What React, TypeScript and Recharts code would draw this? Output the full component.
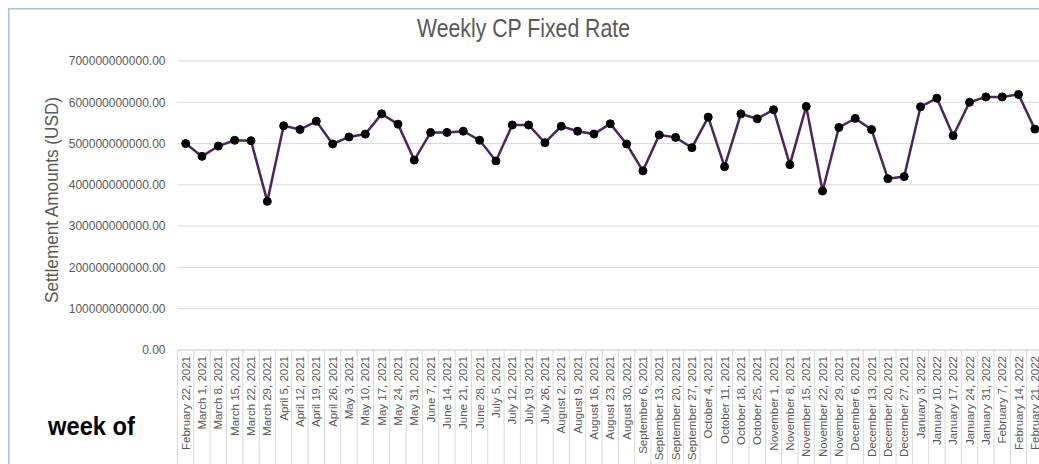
import React from 'react';
import { LineChart, Line, XAxis, YAxis, CartesianGrid } from 'recharts';

const weeks: string[] = [
  'February 22, 2021', 'March 1, 2021', 'March 8, 2021', 'March 15, 2021', 'March 22, 2021', 'March 29, 2021',
  'April 5, 2021', 'April 12, 2021', 'April 19, 2021', 'April 26, 2021',
  'May 3, 2021', 'May 10, 2021', 'May 17, 2021', 'May 24, 2021', 'May 31, 2021',
  'June 7, 2021', 'June 14, 2021', 'June 21, 2021', 'June 28, 2021',
  'July 5, 2021', 'July 12, 2021', 'July 19, 2021', 'July 26, 2021',
  'August 2, 2021', 'August 9, 2021', 'August 16, 2021', 'August 23, 2021', 'August 30, 2021',
  'September 6, 2021', 'September 13, 2021', 'September 20, 2021', 'September 27, 2021',
  'October 4, 2021', 'October 11, 2021', 'October 18, 2021', 'October 25, 2021',
  'November 1, 2021', 'November 8, 2021', 'November 15, 2021', 'November 22, 2021', 'November 29, 2021',
  'December 6, 2021', 'December 13, 2021', 'December 20, 2021', 'December 27, 2021',
  'January 3, 2022', 'January 10, 2022', 'January 17, 2022', 'January 24, 2022', 'January 31, 2022',
  'February 7, 2022', 'February 14, 2022', 'February 21, 2022',
];

// settlement amounts in billions of USD
const settlementBillions: number[] = [
  500, 469, 494, 508, 507, 360,
  543, 534, 554, 499,
  516, 523, 572, 547, 460,
  527, 527, 530, 508,
  458, 545, 545, 502,
  542, 530, 523, 548, 499,
  434, 521, 515, 490,
  564, 444, 572, 560,
  582, 449, 590, 385, 539,
  561, 534, 415, 420,
  589, 610, 519, 600, 613,
  613, 619, 535,
];

const yTicks: number[] = [0, 1e11, 2e11, 3e11, 4e11, 5e11, 6e11, 7e11];

const title = 'Weekly CP Fixed Rate';
const yTitle = 'Settlement Amounts (USD)';
const xNote = 'week of';

const data = weeks.map((w, i) => ({ week: w, amount: settlementBillions[i] * 1e9 }));

const CHART_W = 1050;
const CHART_H = 464;
const MARGIN = { top: 61, right: 7, bottom: 0, left: 0 };
const Y_AXIS_W = 177.5;
const PLOT_W = CHART_W - MARGIN.right - MARGIN.left - Y_AXIS_W;
const STEP = PLOT_W / weeks.length;
const GRID = '#d9d9d9';
const TEXT = '#595959';

const XTick = (props: any) => {
  const { x, y, payload, index } = props;
  const ty = y + 6;
  return (
    <g>
      <line x1={x - STEP / 2} x2={x - STEP / 2} y1={y} y2={y + 130} stroke={GRID} strokeWidth={1} />
      {index === weeks.length - 1 ? (
        <line x1={x + STEP / 2} x2={x + STEP / 2} y1={y} y2={y + 130} stroke={GRID} strokeWidth={1} />
      ) : null}
      <text
        x={x}
        y={ty}
        transform={`rotate(-90, ${x}, ${ty})`}
        textAnchor="end"
        dominantBaseline="central"
        fill={TEXT}
        fontSize={11.5}
        fontFamily="'Liberation Sans', Arial, sans-serif"
      >
        {payload.value}
      </text>
    </g>
  );
};

export default function App() {
  return (
    <div style={{ position: 'fixed', left: 0, top: 0, width: 1039, height: 464, overflow: 'hidden', background: '#fff' }}>
      <div style={{ position: 'absolute', left: 0, top: 0 }}>
        <LineChart width={CHART_W} height={CHART_H} data={data} margin={MARGIN}>
          <CartesianGrid vertical={false} stroke={GRID} strokeWidth={1} />
          <XAxis
            dataKey="week"
            interval={0}
            height={CHART_H - MARGIN.top - 289}
            padding={{ left: STEP / 2, right: STEP / 2 }}
            tickSize={0}
            tickMargin={0}
            tickLine={false}
            axisLine={{ stroke: GRID }}
            tick={<XTick />}
          />
          <YAxis
            width={Y_AXIS_W}
            domain={[0, 7e11]}
            ticks={yTicks}
            tickFormatter={(v: number) => v.toFixed(2)}
            axisLine={false}
            tickLine={false}
            tickSize={0}
            tickMargin={12}
            tick={{ fill: TEXT, fontSize: 12, fontFamily: "'Liberation Sans', Arial, sans-serif" }}
          />
          <Line
            type="linear"
            dataKey="amount"
            stroke="#4e2460"
            strokeWidth={2.5}
            dot={{ r: 4, fill: '#000', stroke: '#000', strokeWidth: 1 }}
            activeDot={false}
            isAnimationActive={false}
          />
        </LineChart>
      </div>
      <svg
        width={1039}
        height={464}
        style={{ position: 'absolute', left: 0, top: 0, pointerEvents: 'none' }}
      >
        <line x1={8} x2={1039} y1={8.75} y2={8.75} stroke="#a3c2e4" strokeWidth={1.5} />
        <line x1={8.75} x2={8.75} y1={8} y2={464} stroke="#a3c2e4" strokeWidth={1.5} />
        <text
          x={523.5}
          y={37}
          textAnchor="middle"
          fill={TEXT}
          fontSize={25}
          textLength={213}
          lengthAdjust="spacingAndGlyphs"
          fontFamily="'Liberation Sans', Arial, sans-serif"
        >
          {title}
        </text>
        <text
          x={58}
          y={200}
          transform="rotate(-90, 58, 200)"
          textAnchor="middle"
          fill={TEXT}
          fontSize={17.5}
          textLength={206}
          lengthAdjust="spacingAndGlyphs"
          fontFamily="'Liberation Sans', Arial, sans-serif"
        >
          {yTitle}
        </text>
        <text
          x={48}
          y={435}
          fill="#000"
          fontSize={25}
          fontWeight="bold"
          textLength={87}
          lengthAdjust="spacingAndGlyphs"
          fontFamily="'Liberation Sans', Arial, sans-serif"
        >
          {xNote}
        </text>
      </svg>
    </div>
  );
}
